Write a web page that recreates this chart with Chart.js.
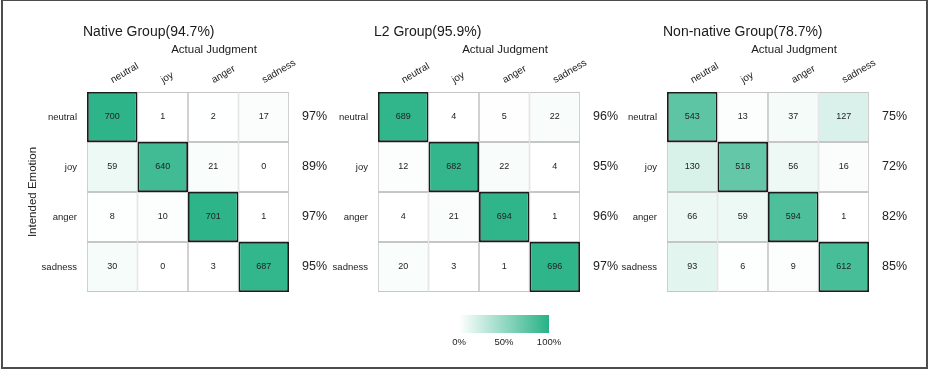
<!DOCTYPE html>
<html>
<head>
<meta charset="utf-8">
<script src="https://cdn.jsdelivr.net/npm/chart.js@4.4.1/dist/chart.umd.min.js"></script>
<style>
  html, body { margin: 0; padding: 0; background: #fff; }
  body { width: 929px; height: 370px; position: relative; overflow: hidden; }
  canvas { position: absolute; }
  #frame { position: absolute; left: 1px; top: -1px; width: 927px; height: 370px;
           border: 2px solid #4d4d4d; box-sizing: border-box; pointer-events: none; }
</style>
</head>
<body>
<canvas id="native" width="334" height="300" style="left:0px;top:0px"></canvas>
<canvas id="l2" width="334" height="300" style="left:291px;top:0px"></canvas>
<canvas id="nonNative" width="334" height="300" style="left:580px;top:0px"></canvas>
<canvas id="colorScale" width="130" height="50" style="left:439px;top:305px"></canvas>
<div id="frame"></div>
<script>
// Confusion matrices: rows = intended emotion, columns = actual judgment
const judgments = ['neutral', 'joy', 'anger', 'sadness'];
const emotions = ['neutral', 'joy', 'anger', 'sadness'];
const groupTitles = ['Native Group(94.7%)', 'L2 Group(95.9%)', 'Non-native Group(78.7%)'];

const nativeCounts = [
  [700, 1, 2, 17],
  [59, 640, 21, 0],
  [8, 10, 701, 1],
  [30, 0, 3, 687]
];
const l2Counts = [
  [689, 4, 5, 22],
  [12, 682, 22, 4],
  [4, 21, 694, 1],
  [20, 3, 1, 696]
];
const nonNativeCounts = [
  [543, 13, 37, 127],
  [130, 518, 56, 16],
  [66, 59, 594, 1],
  [93, 6, 9, 612]
];

// Per-emotion recognition rates shown to the right of each matrix
const nativeRowAcc = [97, 89, 97, 95];
const l2RowAcc = [96, 95, 96, 97];
const nonNativeRowAcc = [75, 72, 82, 85];

const scaleTicks = [0, 50, 100];

const FONT = '"Liberation Sans", Arial, Helvetica, sans-serif';
Chart.defaults.font.family = FONT;
Chart.defaults.color = '#222';

// White -> green ramp used for cell shading
const lowRGB = [255, 255, 255];
const highRGB = [40, 178, 134];
function shade(t) {
  return 'rgb(' + lowRGB.map((l, k) => Math.round(l + (highRGB[k] - l) * t)).join(',') + ')';
}

// Group title and the column-axis caption above each matrix
const headings = {
  id: 'headings',
  afterDraw(chart, args, opts) {
    const { ctx, chartArea } = chart;
    ctx.save();
    ctx.fillStyle = '#1a1a1a';
    ctx.textBaseline = 'middle';
    ctx.textAlign = 'left';
    ctx.font = '14px ' + FONT;
    ctx.fillText(opts.title, chartArea.left - 4, 32);
    ctx.textAlign = 'center';
    ctx.font = '11.5px ' + FONT;
    ctx.fillText(opts.subtitle, (chartArea.left + chartArea.right) / 2 + 26, 50);
    ctx.restore();
  }
};

// Count written in the middle of every cell
const cellValues = {
  id: 'cellValues',
  afterDatasetsDraw(chart) {
    const { ctx } = chart;
    ctx.save();
    ctx.font = '9px ' + FONT;
    ctx.fillStyle = '#222';
    ctx.textAlign = 'center';
    ctx.textBaseline = 'middle';
    chart.data.datasets.forEach((ds, i) => {
      chart.getDatasetMeta(i).data.forEach((bar, j) => {
        const p = bar.getCenterPoint();
        ctx.fillText(String(ds.counts[j]), p.x, p.y);
      });
    });
    ctx.restore();
  }
};

const centerTicks = (scale) => {
  scale.ticks = emotions.map((_, i) => ({ value: i + 0.5 }));
};
const fixWidth = (w) => (scale) => {
  scale.width = w;
  scale.paddingTop = 0;
  scale.paddingBottom = 0;
};

function drawMatrix(canvasId, title, counts, rowAcc, showRowTitle) {
  const datasets = counts.map((row, r) => {
    const total = row.reduce((a, b) => a + b, 0);
    return {
      label: emotions[r],
      counts: row,
      data: row.map(() => [r, r + 1]),
      backgroundColor: row.map(v => shade(v / total)),
      borderColor: row.map((v, c) => (c === r ? '#1c1c1c' : '#c6c6c6')),
      borderWidth: row.map((v, c) => (c === r ? 1.8 : 0.9)),
      borderSkipped: false,
      inflateAmount: 0,
      grouped: false,
      barPercentage: 1,
      categoryPercentage: 1
    };
  });

  return new Chart(document.getElementById(canvasId), {
    type: 'bar',
    data: { labels: judgments, datasets },
    plugins: [headings, cellValues],
    options: {
      responsive: false,
      animation: false,
      events: [],
      layout: { padding: { left: 0, right: 0, top: 0, bottom: 8 } },
      plugins: {
        legend: { display: false },
        tooltip: { enabled: false },
        headings: { title: title, subtitle: 'Actual Judgment' }
      },
      scales: {
        x: {
          type: 'category',
          position: 'top',
          offset: true,
          afterFit: (s) => { s.height = 92; s.paddingLeft = 0; s.paddingRight = 0; },
          grid: { display: false, drawTicks: false },
          border: { display: false },
          ticks: { minRotation: 30, maxRotation: 30, autoSkip: false, padding: 6, labelOffset: 5, font: { size: 10 } }
        },
        y: {
          type: 'linear',
          position: 'left',
          min: 0, max: 4, reverse: true,
          afterBuildTicks: centerTicks,
          afterFit: fixWidth(87),
          grid: { display: false, drawTicks: false },
          border: { display: false },
          ticks: { callback: (v, i) => emotions[i], padding: 10, font: { size: 9.5 } },
          title: {
            display: showRowTitle,
            text: 'Intended Emotion',
            font: { size: 11.5 },
            padding: { top: 26, bottom: 0 }
          }
        },
        y2: {
          type: 'linear',
          position: 'right',
          min: 0, max: 4, reverse: true,
          afterBuildTicks: centerTicks,
          afterFit: fixWidth(45),
          grid: { display: false, drawTicks: false },
          border: { display: false },
          ticks: { callback: (v, i) => rowAcc[i] + '%', padding: 13, font: { size: 12.5 } }
        }
      }
    }
  });
}

drawMatrix('native', groupTitles[0], nativeCounts, nativeRowAcc, true);
drawMatrix('l2', groupTitles[1], l2Counts, l2RowAcc, false);
drawMatrix('nonNative', groupTitles[2], nonNativeCounts, nonNativeRowAcc, false);

// Shared colour key
new Chart(document.getElementById('colorScale'), {
  type: 'bar',
  data: {
    labels: [''],
    datasets: [{
      data: [[scaleTicks[0], scaleTicks[scaleTicks.length - 1]]],
      backgroundColor: (c) => {
        const chart = c.chart;
        const xs = chart.scales.x;
        if (!chart.chartArea || !xs) return shade(0.5);
        const g = chart.ctx.createLinearGradient(xs.getPixelForValue(0), 0, xs.getPixelForValue(100), 0);
        g.addColorStop(0, shade(0));
        g.addColorStop(1, shade(1));
        return g;
      },
      borderWidth: 0,
      barPercentage: 1,
      categoryPercentage: 1
    }]
  },
  options: {
    indexAxis: 'y',
    responsive: false,
    animation: false,
    events: [],
    layout: { padding: { left: 20, right: 20, top: 10, bottom: 5 } },
    plugins: { legend: { display: false }, tooltip: { enabled: false } },
    scales: {
      x: {
        type: 'linear',
        min: 0, max: 100,
        z: 1,
        afterBuildTicks: (s) => { s.ticks = scaleTicks.map(v => ({ value: v })); },
        afterFit: (s) => { s.height = 17; },
        grid: {
          drawTicks: false,
          color: (c) => (c.tick && c.tick.value === 50 ? 'rgba(255,255,255,0.55)' : 'rgba(0,0,0,0)')
        },
        border: { display: false },
        ticks: { callback: (v) => v + '%', padding: 4, font: { size: 9.5 } }
      },
      y: { display: false }
    }
  }
});
</script>
</body>
</html>
